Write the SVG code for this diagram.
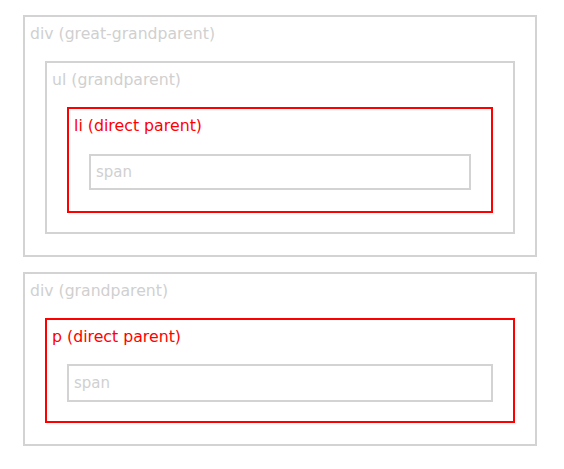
<svg xmlns="http://www.w3.org/2000/svg" width="564" height="469" viewBox="0 0 564 469">
<style>
rect{fill:none;stroke-width:2}
.g{stroke:#d3d3d3}
.r{stroke:#ff0000}
text{font-family:"DejaVu Sans",Verdana,sans-serif;font-size:15px}
.tg{fill:#d0d0d0}
.tr{fill:#ff0000}
</style>
<rect width="564" height="469" fill="#ffffff" style="fill:#ffffff;stroke:none"/>
<g id="div-great-grandparent">
<rect class="g" x="24" y="16" width="512" height="240"/>
<text class="tg" x="30" y="39" textLength="185" lengthAdjust="spacingAndGlyphs">div (great-grandparent)</text>
</g>
<g id="ul-grandparent">
<rect class="g" x="46" y="62" width="468" height="171"/>
<text class="tg" x="52" y="85" textLength="129" lengthAdjust="spacingAndGlyphs">ul (grandparent)</text>
</g>
<g id="li-direct-parent">
<rect class="r" x="68" y="108" width="424" height="104"/>
<text class="tr" x="74" y="131" textLength="128" lengthAdjust="spacingAndGlyphs">li (direct parent)</text>
</g>
<g id="span-1">
<rect class="g" x="90" y="155" width="380" height="34"/>
<text class="tg" x="96" y="177" textLength="36" lengthAdjust="spacingAndGlyphs">span</text>
</g>
<g id="div-grandparent">
<rect class="g" x="24" y="273" width="512" height="172"/>
<text class="tg" x="30" y="296" textLength="138" lengthAdjust="spacingAndGlyphs">div (grandparent)</text>
</g>
<g id="p-direct-parent">
<rect class="r" x="46" y="319" width="468" height="103"/>
<text class="tr" x="52" y="342" textLength="129" lengthAdjust="spacingAndGlyphs">p (direct parent)</text>
</g>
<g id="span-2">
<rect class="g" x="68" y="365" width="424" height="36"/>
<text class="tg" x="74" y="388" textLength="36" lengthAdjust="spacingAndGlyphs">span</text>
</g>
<g id="connectors"></g>
</svg>
